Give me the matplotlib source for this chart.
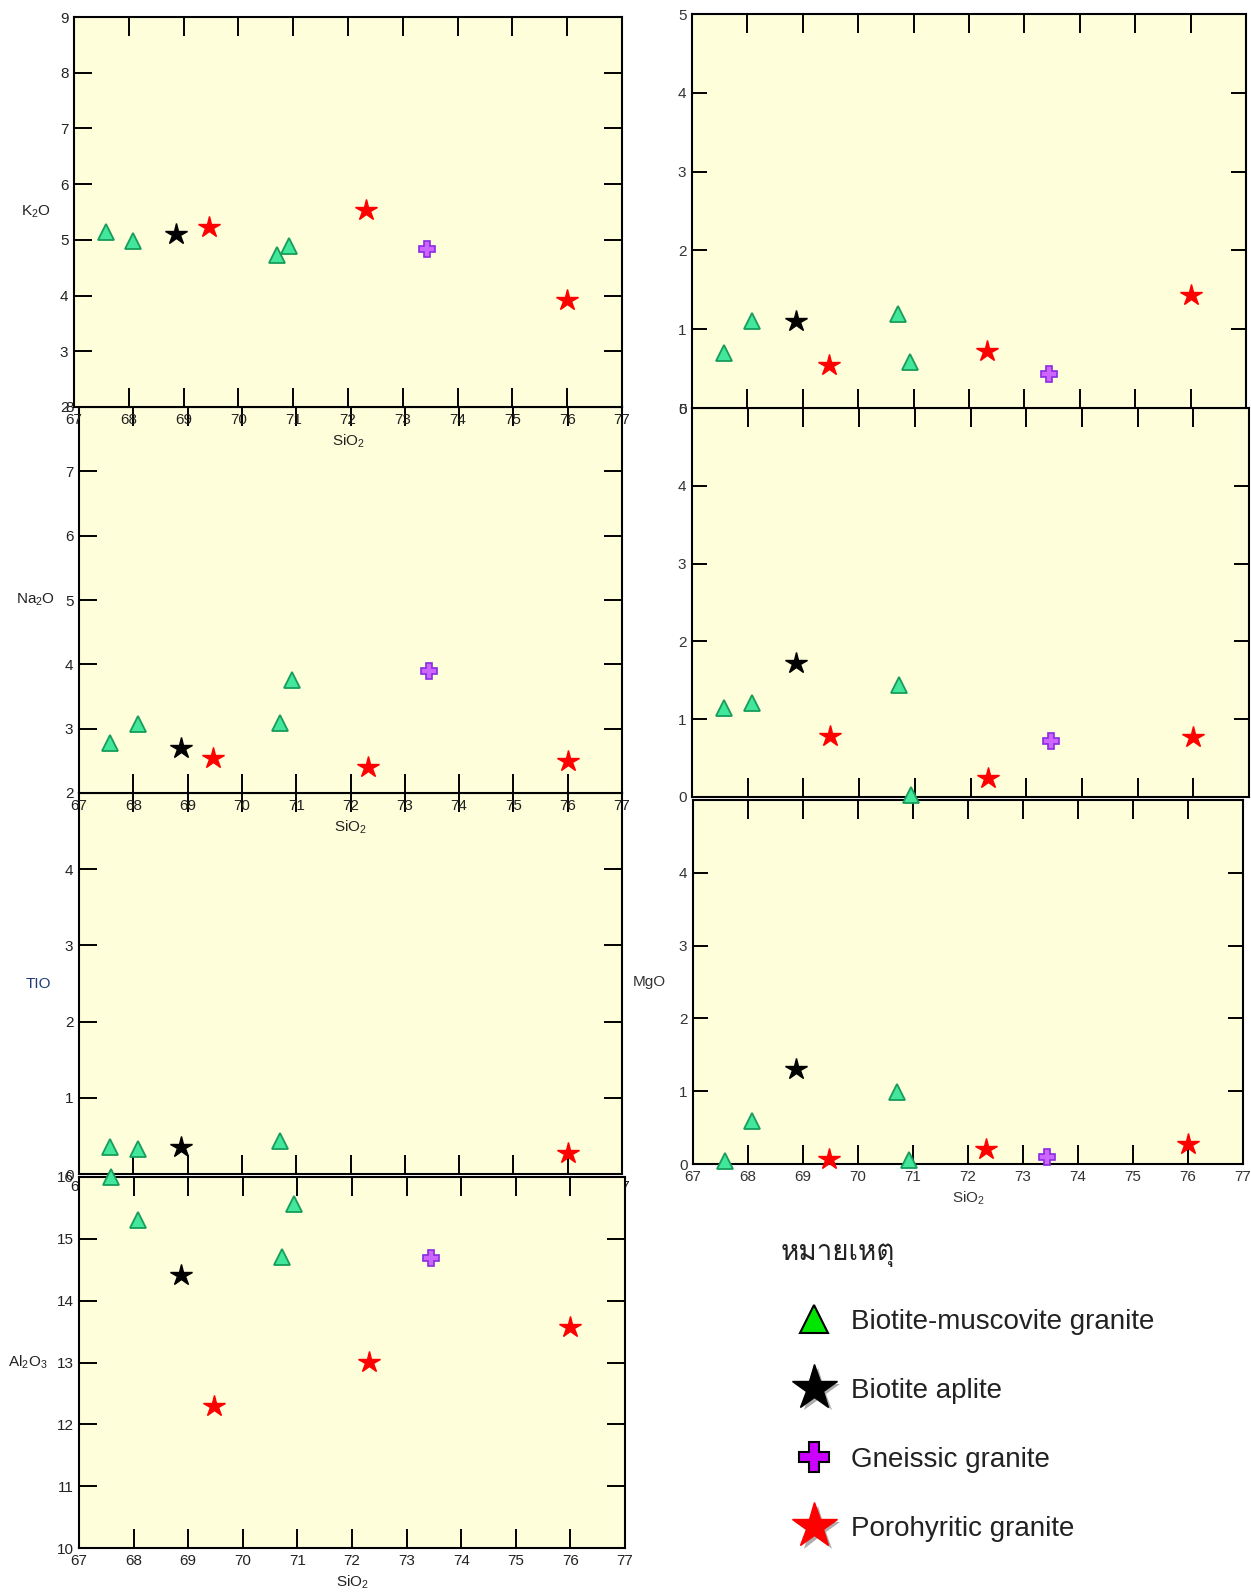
import numpy as np
import matplotlib
matplotlib.use('Agg')
import matplotlib.pyplot as plt
import matplotlib.patheffects as pe
from matplotlib import font_manager
from matplotlib.ft2font import FT2Font
from matplotlib.lines import Line2D

nan = np.nan

# --- SiO2 (wt%) of each rock group ---
sio2_bm = [67.58, 68.08, 70.71, 70.93]   # Biotite-muscovite granite
sio2_ba = [68.87]                        # Biotite aplite
sio2_gn = [73.44]                        # Gneissic granite
sio2_pg = [69.47, 72.32, 76.00]          # Porohyritic granite

# --- left column ---
k2o_bm = [5.14, 4.98, 4.72, 4.89]
k2o_ba = [5.11]
k2o_gn = [4.83]
k2o_pg = [5.23, 5.54, 3.92]

na2o_bm = [2.78, 3.08, 3.09, 3.76]
na2o_ba = [2.70]
na2o_gn = [3.90]
na2o_pg = [2.54, 2.40, 2.49]

tio_bm = [0.35, 0.33, 0.43, nan]
tio_ba = [0.36]
tio_gn = [nan]
tio_pg = [nan, nan, 0.27]

al2o3_bm = [16.00, 15.31, 14.70, 15.57]
al2o3_ba = [14.42]
al2o3_gn = [14.69]
al2o3_pg = [12.29, 13.01, 13.57]

# --- right column (top two panels have no y label) ---
oxa_bm = [0.70, 1.10, 1.19, 0.59]
oxa_ba = [1.10]
oxa_gn = [0.43]
oxa_pg = [0.54, 0.72, 1.43]

oxb_bm = [1.14, 1.21, 1.44, 0.02]
oxb_ba = [1.72]
oxb_gn = [0.72]
oxb_pg = [0.78, 0.25, 0.77]

mgo_bm = [0.04, 0.59, 0.99, 0.06]
mgo_ba = [1.31]
mgo_gn = [0.10]
mgo_pg = [0.07, 0.20, 0.27]

group_names = ['Biotite-muscovite granite', 'Biotite aplite',
               'Gneissic granite', 'Porohyritic granite']
legend_title = 'หมายเหตุ'
x_ticks = list(range(67, 78))


def find_thai_font():
    for f in font_manager.fontManager.ttflist:
        try:
            if 0x0E2B in FT2Font(f.fname).get_charmap():
                return f.name
        except Exception:
            pass
    return 'DejaVu Sans'


plt.rcParams['font.family'] = ['Liberation Sans', 'DejaVu Sans']
plt.rcParams['mathtext.fontset'] = 'custom'
plt.rcParams['mathtext.rm'] = 'Liberation Sans'
plt.rcParams['mathtext.it'] = 'Liberation Sans'

W, H = 1251, 1595
fig = plt.figure(figsize=(W / 100, H / 100), dpi=100)
BG = '#fffedb'


def px_rect(left, top, right, bottom):
    return [left / W, 1 - bottom / H, (right - left) / W, (bottom - top) / H]


def draw_points(ax, bm, ba, gn, pg):
    ax.plot(sio2_bm, bm, ls='none', marker='^', ms=12, mfc='#42e79c',
            mec='#179c5b', mew=1.3, clip_on=False, zorder=3)
    ax.plot(sio2_ba, ba, ls='none', marker='*', ms=16, mfc='black',
            mec='black', clip_on=False, zorder=3)
    ax.plot(sio2_gn, gn, ls='none', marker='P', ms=11, mfc='#cc66ff',
            mec='#8a2be2', mew=1.2, clip_on=False, zorder=3)
    ax.plot(sio2_pg, pg, ls='none', marker='*', ms=16, mfc='#ff0000',
            mec='#ff0000', clip_on=False, zorder=3)


def panel(rect, ylim, yticks, ylabel=None, ylab_x=-0.075, xlabel=True,
          xticklabels=True, z=1, ylen=13, label_color='#222222'):
    ax = fig.add_axes(rect)
    ax.set_facecolor(BG)
    ax.set_zorder(z)
    ax.set_xlim(67, 77)
    ax.set_ylim(*ylim)
    ax.set_xticks(x_ticks)
    ax.set_yticks(yticks)
    ax.tick_params(axis='x', which='major', direction='in', top=True,
                   bottom=True, length=14, width=1.4, labelsize=11, pad=4,
                   labelcolor=label_color, labelbottom=xticklabels)
    ax.tick_params(axis='y', which='major', direction='in', left=True,
                   right=True, length=ylen, width=1.4, labelsize=11, pad=4,
                   labelcolor=label_color)
    for s in ax.spines.values():
        s.set_linewidth(1.5)
    if xlabel:
        ax.set_xlabel('SiO$_2$', fontsize=11, labelpad=4, color=label_color)
    if ylabel:
        ax.set_ylabel(ylabel, rotation=0, fontsize=11, ha='center',
                      va='center', color=label_color)
        ax.yaxis.set_label_coords(ylab_x, 0.5)
    return ax


# left column (draw order chosen so overlapping tick labels look like the scan)
ax_k = panel(px_rect(74, 17, 622, 407), (2, 9), range(2, 10), 'K$_2$O',
             ylab_x=-0.069, z=5)
draw_points(ax_k, k2o_bm, k2o_ba, k2o_gn, k2o_pg)

ax_na = panel(px_rect(79, 407, 622, 793), (2, 8), range(2, 9), 'Na$_2$O',
              ylab_x=-0.080, z=4)
draw_points(ax_na, na2o_bm, na2o_ba, na2o_gn, na2o_pg)

ax_ti = panel(px_rect(79, 793, 622, 1174), (0, 5), range(0, 5), 'TIO',
              ylab_x=-0.074, z=2)
ax_ti.yaxis.label.set_color('#1f3a78')
draw_points(ax_ti, tio_bm, tio_ba, tio_gn, tio_pg)

ax_al = panel(px_rect(79, 1177, 625, 1548), (10, 16), range(10, 17),
              'Al$_2$O$_3$', ylab_x=-0.094, z=3)
draw_points(ax_al, al2o3_bm, al2o3_ba, al2o3_gn, al2o3_pg)

# right column
ax_a = panel(px_rect(692, 14, 1246, 408), (0, 5), range(0, 6), xlabel=False,
             xticklabels=False, z=3, ylen=11, label_color='#333333')
draw_points(ax_a, oxa_bm, oxa_ba, oxa_gn, oxa_pg)

ax_b = panel(px_rect(692, 408, 1249, 797), (0, 5), range(0, 6), xlabel=False,
             xticklabels=False, z=2, ylen=11, label_color='#333333')
draw_points(ax_b, oxb_bm, oxb_ba, oxb_gn, oxb_pg)

ax_mg = panel(px_rect(693, 800, 1243, 1164), (0, 5), range(0, 5), 'MgO',
              ylab_x=-0.079, z=1, ylen=11, label_color='#333333')
draw_points(ax_mg, mgo_bm, mgo_ba, mgo_gn, mgo_pg)

# legend
thai = find_thai_font()
fig.text(781 / W, 1 - 1254 / H, legend_title, fontsize=20, ha='left',
         va='center', family=[thai, 'DejaVu Sans'], color='#222222')

shadow = [pe.SimplePatchShadow(offset=(2.5, -2.5), shadow_rgbFace='#999999',
                               alpha=0.8), pe.Normal()]
handles = [
    Line2D([], [], ls='none', marker='^', ms=20, mfc='#00e600', mec='black',
           mew=1.5),
    Line2D([], [], ls='none', marker='*', ms=34, mfc='black', mec='black',
           path_effects=shadow),
    Line2D([], [], ls='none', marker='P', ms=21, mfc='#cc00ff', mec='black',
           mew=1.5),
    Line2D([], [], ls='none', marker='*', ms=34, mfc='#ff0000', mec='#ff0000',
           path_effects=shadow),
]
leg = fig.legend(handles, group_names, loc='upper left',
                 bbox_to_anchor=(792 / W, 1 - 1303 / H), frameon=False,
                 fontsize=20, labelspacing=1.55, handlelength=1.2,
                 handletextpad=0.73, borderpad=0.2, borderaxespad=0)
for t in leg.get_texts():
    t.set_color('#222222')

fig.savefig('out.png', dpi=100, facecolor='white')
